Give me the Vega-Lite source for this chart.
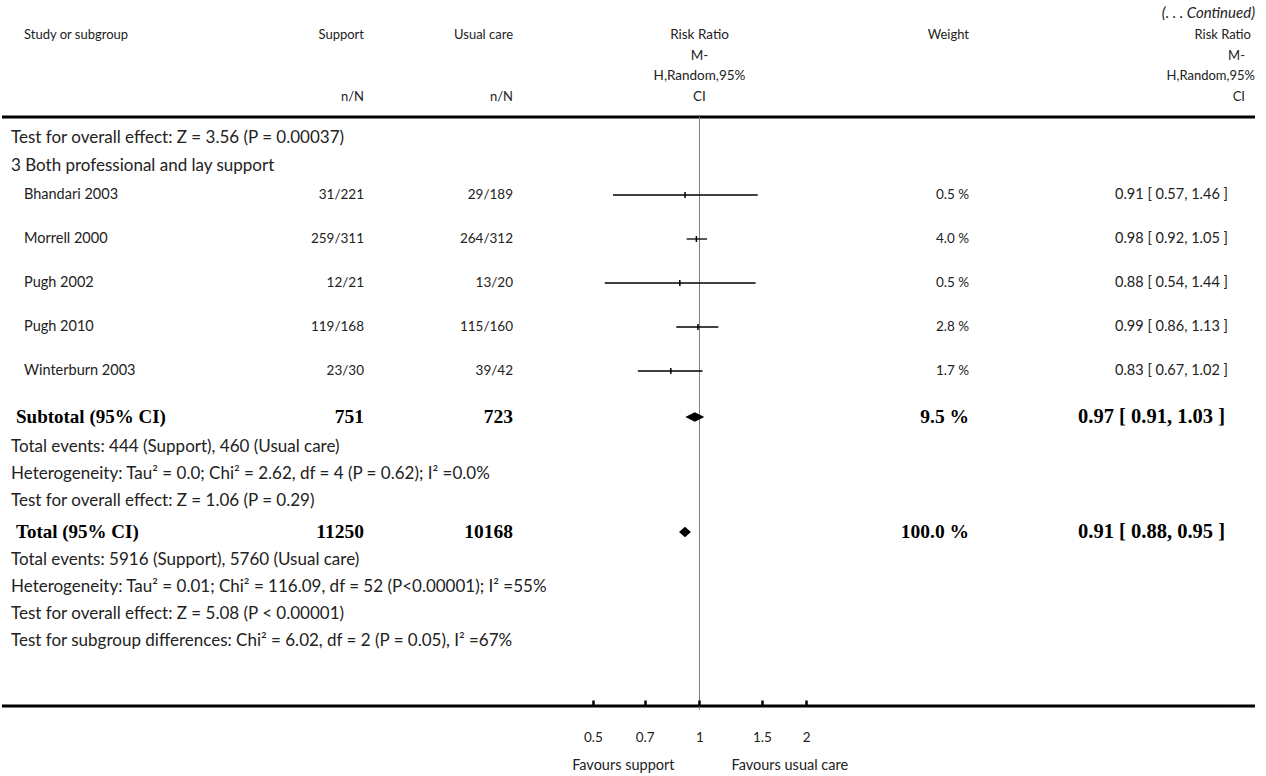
{
  "$schema": "https://vega.github.io/schema/vega-lite/v6.json",
  "padding": 0,
  "spacing": 0,
  "bounds": "flush",
  "background": "white",
  "config": {
    "view": {"stroke": null},
    "text": {"font": "Lato", "fontSize": 14.5, "color": "#222", "baseline": "middle"},
    "concat": {"spacing": 0}
  },
  "resolve": {"scale": {"x": "independent", "y": "independent"}},
  "datasets": {
    "table": [
      {"y": 1.3, "kind": "cont", "rrh": "(. . . Continued)"},
      {"y": 3.5, "kind": "head", "study": "Study or subgroup", "support": "Support", "usual": "Usual care", "forest": "Risk Ratio", "weight": "Weight", "rrh": "Risk Ratio"},
      {"y": 5.55, "kind": "head", "forest": "M-", "rrh": "M-"},
      {"y": 7.6, "kind": "head", "forest": "H,Random,95%", "rrh": "H,Random,95%"},
      {"y": 9.65, "kind": "head", "support": "n/N", "usual": "n/N", "forest": "CI", "rrh": "CI"},
      {"y": 13.8, "kind": "note", "study": "Test for overall effect: Z = 3.56 (P = 0.00037)"},
      {"y": 16.6, "kind": "note", "study": "3 Both professional and lay support"},
      {"y": 19.5, "kind": "study", "study": "Bhandari 2003", "support": "31/221", "usual": "29/189", "rr": 0.91, "lo": 0.57, "hi": 1.46, "weight": "0.5 %", "ci": "0.91 [ 0.57, 1.46 ]"},
      {"y": 23.9, "kind": "study", "study": "Morrell 2000", "support": "259/311", "usual": "264/312", "rr": 0.98, "lo": 0.92, "hi": 1.05, "weight": "4.0 %", "ci": "0.98 [ 0.92, 1.05 ]"},
      {"y": 28.3, "kind": "study", "study": "Pugh 2002", "support": "12/21", "usual": "13/20", "rr": 0.88, "lo": 0.54, "hi": 1.44, "weight": "0.5 %", "ci": "0.88 [ 0.54, 1.44 ]"},
      {"y": 32.7, "kind": "study", "study": "Pugh 2010", "support": "119/168", "usual": "115/160", "rr": 0.99, "lo": 0.86, "hi": 1.13, "weight": "2.8 %", "ci": "0.99 [ 0.86, 1.13 ]"},
      {"y": 37.1, "kind": "study", "study": "Winterburn 2003", "support": "23/30", "usual": "39/42", "rr": 0.83, "lo": 0.67, "hi": 1.02, "weight": "1.7 %", "ci": "0.83 [ 0.67, 1.02 ]"},
      {"y": 41.7, "kind": "bold", "diamond": "wide", "study": "Subtotal (95% CI)", "support": "751", "usual": "723", "rr": 0.97, "lo": 0.91, "hi": 1.03, "weight": "9.5 %", "ci": "0.97 [ 0.91, 1.03 ]"},
      {"y": 44.7, "kind": "note", "study": "Total events: 444 (Support), 460 (Usual care)"},
      {"y": 47.4, "kind": "note", "study": "Heterogeneity: Tau² = 0.0; Chi² = 2.62, df = 4 (P = 0.62); I² =0.0%"},
      {"y": 50.1, "kind": "note", "study": "Test for overall effect: Z = 1.06 (P = 0.29)"},
      {"y": 53.2, "kind": "bold", "diamond": "narrow", "study": "Total (95% CI)", "support": "11250", "usual": "10168", "rr": 0.91, "lo": 0.88, "hi": 0.95, "weight": "100.0 %", "ci": "0.91 [ 0.88, 0.95 ]"},
      {"y": 56.0, "kind": "note", "study": "Total events: 5916 (Support), 5760 (Usual care)"},
      {"y": 58.7, "kind": "note", "study": "Heterogeneity: Tau² = 0.01; Chi² = 116.09, df = 52 (P<0.00001); I² =55%"},
      {"y": 61.4, "kind": "note", "study": "Test for overall effect: Z = 5.08 (P < 0.00001)"},
      {"y": 64.1, "kind": "note", "study": "Test for subgroup differences: Chi² = 6.02, df = 2 (P = 0.05), I² =67%"}
    ],
    "hlines": [{"y": 11.7}, {"y": 70.6}],
    "favours": [{"y": 76.6, "t": "Favours support", "side": "left"}, {"y": 76.6, "t": "Favours usual care", "side": "right"}]
  },
  "hconcat": [
    {
      "width": 240, "height": 776,
      "layer": [
        {"data": {"name": "hlines"}, "mark": {"type": "rule", "strokeWidth": 3, "color": "#000"},
         "encoding": {"y": {"field": "y", "type": "quantitative", "scale": {"domain": [0, 77.6], "reverse": true, "nice": false, "zero": false}, "axis": null}}},
        {"data": {"name": "table"}, "transform": [{"filter": "datum.kind === 'head' && datum.study"}],
         "mark": {"type": "text", "align": "left", "dx": 22, "fontSize": 13},
         "encoding": {
           "x": {"datum": "c", "type": "nominal", "scale": {"type": "band", "paddingInner": 0, "paddingOuter": 0}, "bandPosition": 0, "axis": null},
           "y": {"field": "y", "type": "quantitative", "scale": {"domain": [0, 77.6], "reverse": true, "nice": false, "zero": false}, "axis": null},
           "text": {"field": "study"}}},
        {"data": {"name": "table"}, "transform": [{"filter": "datum.kind === 'note'"}],
         "mark": {"type": "text", "align": "left", "dx": 9, "fontSize": 17},
         "encoding": {
           "x": {"datum": "c", "type": "nominal", "scale": {"type": "band", "paddingInner": 0, "paddingOuter": 0}, "bandPosition": 0, "axis": null},
           "y": {"field": "y", "type": "quantitative", "scale": {"domain": [0, 77.6], "reverse": true, "nice": false, "zero": false}, "axis": null},
           "text": {"field": "study"}}},
        {"data": {"name": "table"}, "transform": [{"filter": "datum.kind === 'study'"}],
         "mark": {"type": "text", "align": "left", "dx": 22},
         "encoding": {
           "x": {"datum": "c", "type": "nominal", "scale": {"type": "band", "paddingInner": 0, "paddingOuter": 0}, "bandPosition": 0, "axis": null},
           "y": {"field": "y", "type": "quantitative", "scale": {"domain": [0, 77.6], "reverse": true, "nice": false, "zero": false}, "axis": null},
           "text": {"field": "study"}}},
        {"data": {"name": "table"}, "transform": [{"filter": "datum.kind === 'bold'"}],
         "mark": {"type": "text", "align": "left", "dx": 14, "font": "Liberation Serif", "fontWeight": "bold", "fontSize": 19, "color": "#000"},
         "encoding": {
           "x": {"datum": "c", "type": "nominal", "scale": {"type": "band", "paddingInner": 0, "paddingOuter": 0}, "bandPosition": 0, "axis": null},
           "y": {"field": "y", "type": "quantitative", "scale": {"domain": [0, 77.6], "reverse": true, "nice": false, "zero": false}, "axis": null},
           "text": {"field": "study"}}}
      ]
    },
    {
      "width": 122, "height": 776,
      "layer": [
        {"data": {"name": "hlines"}, "mark": {"type": "rule", "strokeWidth": 3, "color": "#000"},
         "encoding": {"y": {"field": "y", "type": "quantitative", "scale": {"domain": [0, 77.6], "reverse": true, "nice": false, "zero": false}, "axis": null}}},
        {"data": {"name": "table"}, "transform": [{"filter": "datum.kind === 'head' && datum.support"}],
         "mark": {"type": "text", "align": "right", "fontSize": 13},
         "encoding": {
           "x": {"datum": "c", "type": "nominal", "scale": {"type": "band", "paddingInner": 0, "paddingOuter": 0}, "bandPosition": 1, "axis": null},
           "y": {"field": "y", "type": "quantitative", "scale": {"domain": [0, 77.6], "reverse": true, "nice": false, "zero": false}, "axis": null},
           "text": {"field": "support"}}},
        {"data": {"name": "table"}, "transform": [{"filter": "datum.kind === 'study'"}],
         "mark": {"type": "text", "align": "right", "fontSize": 13.5},
         "encoding": {
           "x": {"datum": "c", "type": "nominal", "scale": {"type": "band", "paddingInner": 0, "paddingOuter": 0}, "bandPosition": 1, "axis": null},
           "y": {"field": "y", "type": "quantitative", "scale": {"domain": [0, 77.6], "reverse": true, "nice": false, "zero": false}, "axis": null},
           "text": {"field": "support"}}},
        {"data": {"name": "table"}, "transform": [{"filter": "datum.kind === 'bold'"}],
         "mark": {"type": "text", "align": "right", "font": "Liberation Serif", "fontWeight": "bold", "fontSize": 19.5, "color": "#000"},
         "encoding": {
           "x": {"datum": "c", "type": "nominal", "scale": {"type": "band", "paddingInner": 0, "paddingOuter": 0}, "bandPosition": 1, "axis": null},
           "y": {"field": "y", "type": "quantitative", "scale": {"domain": [0, 77.6], "reverse": true, "nice": false, "zero": false}, "axis": null},
           "text": {"field": "support"}}}
      ]
    },
    {
      "width": 149, "height": 776,
      "layer": [
        {"data": {"name": "hlines"}, "mark": {"type": "rule", "strokeWidth": 3, "color": "#000"},
         "encoding": {"y": {"field": "y", "type": "quantitative", "scale": {"domain": [0, 77.6], "reverse": true, "nice": false, "zero": false}, "axis": null}}},
        {"data": {"name": "table"}, "transform": [{"filter": "datum.kind === 'head' && datum.usual"}],
         "mark": {"type": "text", "align": "right", "fontSize": 13},
         "encoding": {
           "x": {"datum": "c", "type": "nominal", "scale": {"type": "band", "paddingInner": 0, "paddingOuter": 0}, "bandPosition": 1, "axis": null},
           "y": {"field": "y", "type": "quantitative", "scale": {"domain": [0, 77.6], "reverse": true, "nice": false, "zero": false}, "axis": null},
           "text": {"field": "usual"}}},
        {"data": {"name": "table"}, "transform": [{"filter": "datum.kind === 'study'"}],
         "mark": {"type": "text", "align": "right", "fontSize": 13.5},
         "encoding": {
           "x": {"datum": "c", "type": "nominal", "scale": {"type": "band", "paddingInner": 0, "paddingOuter": 0}, "bandPosition": 1, "axis": null},
           "y": {"field": "y", "type": "quantitative", "scale": {"domain": [0, 77.6], "reverse": true, "nice": false, "zero": false}, "axis": null},
           "text": {"field": "usual"}}},
        {"data": {"name": "table"}, "transform": [{"filter": "datum.kind === 'bold'"}],
         "mark": {"type": "text", "align": "right", "font": "Liberation Serif", "fontWeight": "bold", "fontSize": 19.5, "color": "#000"},
         "encoding": {
           "x": {"datum": "c", "type": "nominal", "scale": {"type": "band", "paddingInner": 0, "paddingOuter": 0}, "bandPosition": 1, "axis": null},
           "y": {"field": "y", "type": "quantitative", "scale": {"domain": [0, 77.6], "reverse": true, "nice": false, "zero": false}, "axis": null},
           "text": {"field": "usual"}}}
      ]
    },
    {
      "width": 360, "height": 776,
      "layer": [
        {"data": {"name": "hlines"}, "mark": {"type": "rule", "strokeWidth": 3, "color": "#000"},
         "encoding": {"y": {"field": "y", "type": "quantitative", "scale": {"domain": [0, 77.6], "reverse": true, "nice": false, "zero": false}, "axis": null}}},
        {"data": {"values": [{"a": 11.7, "b": 71.0}]},
         "mark": {"type": "rule", "color": "#808080", "strokeWidth": 1},
         "encoding": {
           "x": {"datum": 1, "type": "quantitative", "scale": {"type": "log", "domain": [0.2975, 3.089], "nice": false},
                 "axis": {"orient": "bottom", "offset": -70, "values": [0.5, 0.7, 1, 1.5, 2], "format": "~g", "title": null, "domain": false, "grid": false, "zindex": 1,
                          "ticks": true, "tickSize": -6, "tickWidth": 2.5, "tickColor": "#000", "labelFont": "Lato", "labelFontSize": 13.5, "labelColor": "#222", "labelPadding": 30}},
           "y": {"field": "a", "type": "quantitative", "scale": {"domain": [0, 77.6], "reverse": true, "nice": false, "zero": false}, "axis": null},
           "y2": {"field": "b"}}},
        {"data": {"name": "table"}, "transform": [{"filter": "datum.kind === 'study'"}],
         "mark": {"type": "rule", "color": "#000", "strokeWidth": 1.3},
         "encoding": {
           "x": {"field": "lo", "type": "quantitative", "scale": {"type": "log", "domain": [0.2975, 3.089], "nice": false},
                 "axis": {"orient": "bottom", "offset": -70, "values": [0.5, 0.7, 1, 1.5, 2], "format": "~g", "title": null, "domain": false, "grid": false, "zindex": 1,
                          "ticks": true, "tickSize": -6, "tickWidth": 2.5, "tickColor": "#000", "labelFont": "Lato", "labelFontSize": 13.5, "labelColor": "#222", "labelPadding": 30}},
           "x2": {"field": "hi"},
           "y": {"field": "y", "type": "quantitative", "scale": {"domain": [0, 77.6], "reverse": true, "nice": false, "zero": false}, "axis": null}}},
        {"data": {"name": "table"}, "transform": [{"filter": "datum.kind === 'study'"}],
         "mark": {"type": "point", "shape": "M0,-1L0,1", "filled": false, "stroke": "#000", "strokeWidth": 1.5, "size": 36, "opacity": 1},
         "encoding": {
           "x": {"field": "rr", "type": "quantitative", "scale": {"type": "log", "domain": [0.2975, 3.089], "nice": false},
                 "axis": {"orient": "bottom", "offset": -70, "values": [0.5, 0.7, 1, 1.5, 2], "format": "~g", "title": null, "domain": false, "grid": false, "zindex": 1,
                          "ticks": true, "tickSize": -6, "tickWidth": 2.5, "tickColor": "#000", "labelFont": "Lato", "labelFontSize": 13.5, "labelColor": "#222", "labelPadding": 30}},
           "y": {"field": "y", "type": "quantitative", "scale": {"domain": [0, 77.6], "reverse": true, "nice": false, "zero": false}, "axis": null}}},
        {"data": {"name": "table"}, "transform": [{"filter": "datum.diamond === 'wide'"}],
         "mark": {"type": "point", "shape": "M-1,0L0,-0.5L1,0L0,0.5Z", "filled": true, "fill": "#000", "strokeWidth": 0, "size": 361, "opacity": 1},
         "encoding": {
           "x": {"field": "rr", "type": "quantitative", "scale": {"type": "log", "domain": [0.2975, 3.089], "nice": false},
                 "axis": {"orient": "bottom", "offset": -70, "values": [0.5, 0.7, 1, 1.5, 2], "format": "~g", "title": null, "domain": false, "grid": false, "zindex": 1,
                          "ticks": true, "tickSize": -6, "tickWidth": 2.5, "tickColor": "#000", "labelFont": "Lato", "labelFontSize": 13.5, "labelColor": "#222", "labelPadding": 30}},
           "y": {"field": "y", "type": "quantitative", "scale": {"domain": [0, 77.6], "reverse": true, "nice": false, "zero": false}, "axis": null}}},
        {"data": {"name": "table"}, "transform": [{"filter": "datum.diamond === 'narrow'"}],
         "mark": {"type": "point", "shape": "M-1,0L0,-0.9L1,0L0,0.9Z", "filled": true, "fill": "#000", "strokeWidth": 0, "size": 140, "opacity": 1},
         "encoding": {
           "x": {"field": "rr", "type": "quantitative", "scale": {"type": "log", "domain": [0.2975, 3.089], "nice": false},
                 "axis": {"orient": "bottom", "offset": -70, "values": [0.5, 0.7, 1, 1.5, 2], "format": "~g", "title": null, "domain": false, "grid": false, "zindex": 1,
                          "ticks": true, "tickSize": -6, "tickWidth": 2.5, "tickColor": "#000", "labelFont": "Lato", "labelFontSize": 13.5, "labelColor": "#222", "labelPadding": 30}},
           "y": {"field": "y", "type": "quantitative", "scale": {"domain": [0, 77.6], "reverse": true, "nice": false, "zero": false}, "axis": null}}},
        {"data": {"name": "table"}, "transform": [{"filter": "datum.kind === 'head' && datum.forest"}],
         "mark": {"type": "text", "align": "center", "fontSize": 13.5},
         "encoding": {
           "x": {"datum": 1, "type": "quantitative", "scale": {"type": "log", "domain": [0.2975, 3.089], "nice": false},
                 "axis": {"orient": "bottom", "offset": -70, "values": [0.5, 0.7, 1, 1.5, 2], "format": "~g", "title": null, "domain": false, "grid": false, "zindex": 1,
                          "ticks": true, "tickSize": -6, "tickWidth": 2.5, "tickColor": "#000", "labelFont": "Lato", "labelFontSize": 13.5, "labelColor": "#222", "labelPadding": 30}},
           "y": {"field": "y", "type": "quantitative", "scale": {"domain": [0, 77.6], "reverse": true, "nice": false, "zero": false}, "axis": null},
           "text": {"field": "forest"}}},
        {"data": {"name": "favours"}, "transform": [{"filter": "datum.side === 'left'"}],
         "mark": {"type": "text", "align": "right", "dx": -25, "fontSize": 14.5},
         "encoding": {
           "x": {"datum": 1, "type": "quantitative", "scale": {"type": "log", "domain": [0.2975, 3.089], "nice": false},
                 "axis": {"orient": "bottom", "offset": -70, "values": [0.5, 0.7, 1, 1.5, 2], "format": "~g", "title": null, "domain": false, "grid": false, "zindex": 1,
                          "ticks": true, "tickSize": -6, "tickWidth": 2.5, "tickColor": "#000", "labelFont": "Lato", "labelFontSize": 13.5, "labelColor": "#222", "labelPadding": 30}},
           "y": {"field": "y", "type": "quantitative", "scale": {"domain": [0, 77.6], "reverse": true, "nice": false, "zero": false}, "axis": null},
           "text": {"field": "t"}}},
        {"data": {"name": "favours"}, "transform": [{"filter": "datum.side === 'right'"}],
         "mark": {"type": "text", "align": "left", "dx": 32, "fontSize": 14.5},
         "encoding": {
           "x": {"datum": 1, "type": "quantitative", "scale": {"type": "log", "domain": [0.2975, 3.089], "nice": false},
                 "axis": {"orient": "bottom", "offset": -70, "values": [0.5, 0.7, 1, 1.5, 2], "format": "~g", "title": null, "domain": false, "grid": false, "zindex": 1,
                          "ticks": true, "tickSize": -6, "tickWidth": 2.5, "tickColor": "#000", "labelFont": "Lato", "labelFontSize": 13.5, "labelColor": "#222", "labelPadding": 30}},
           "y": {"field": "y", "type": "quantitative", "scale": {"domain": [0, 77.6], "reverse": true, "nice": false, "zero": false}, "axis": null},
           "text": {"field": "t"}}}
      ]
    },
    {
      "width": 96, "height": 776,
      "layer": [
        {"data": {"name": "hlines"}, "mark": {"type": "rule", "strokeWidth": 3, "color": "#000"},
         "encoding": {"y": {"field": "y", "type": "quantitative", "scale": {"domain": [0, 77.6], "reverse": true, "nice": false, "zero": false}, "axis": null}}},
        {"data": {"name": "table"}, "transform": [{"filter": "datum.kind === 'head' && datum.weight"}],
         "mark": {"type": "text", "align": "right", "fontSize": 13},
         "encoding": {
           "x": {"datum": "c", "type": "nominal", "scale": {"type": "band", "paddingInner": 0, "paddingOuter": 0}, "bandPosition": 1, "axis": null},
           "y": {"field": "y", "type": "quantitative", "scale": {"domain": [0, 77.6], "reverse": true, "nice": false, "zero": false}, "axis": null},
           "text": {"field": "weight"}}},
        {"data": {"name": "table"}, "transform": [{"filter": "datum.kind === 'study'"}],
         "mark": {"type": "text", "align": "right", "fontSize": 13.5},
         "encoding": {
           "x": {"datum": "c", "type": "nominal", "scale": {"type": "band", "paddingInner": 0, "paddingOuter": 0}, "bandPosition": 1, "axis": null},
           "y": {"field": "y", "type": "quantitative", "scale": {"domain": [0, 77.6], "reverse": true, "nice": false, "zero": false}, "axis": null},
           "text": {"field": "weight"}}},
        {"data": {"name": "table"}, "transform": [{"filter": "datum.kind === 'bold'"}],
         "mark": {"type": "text", "align": "right", "font": "Liberation Serif", "fontWeight": "bold", "fontSize": 19.5, "color": "#000"},
         "encoding": {
           "x": {"datum": "c", "type": "nominal", "scale": {"type": "band", "paddingInner": 0, "paddingOuter": 0}, "bandPosition": 1, "axis": null},
           "y": {"field": "y", "type": "quantitative", "scale": {"domain": [0, 77.6], "reverse": true, "nice": false, "zero": false}, "axis": null},
           "text": {"field": "weight"}}}
      ]
    },
    {
      "width": 259, "height": 776,
      "layer": [
        {"data": {"name": "hlines"}, "mark": {"type": "rule", "strokeWidth": 3, "color": "#000"},
         "encoding": {"y": {"field": "y", "type": "quantitative", "scale": {"domain": [0, 77.6], "reverse": true, "nice": false, "zero": false}, "axis": null}}},
        {"data": {"name": "table"}, "transform": [{"filter": "datum.kind === 'study'"}],
         "mark": {"type": "text", "align": "right", "fontSize": 14.5},
         "encoding": {
           "x": {"datum": "c", "type": "nominal", "scale": {"type": "band", "paddingInner": 0, "paddingOuter": 0}, "bandPosition": 1, "axis": null},
           "y": {"field": "y", "type": "quantitative", "scale": {"domain": [0, 77.6], "reverse": true, "nice": false, "zero": false}, "axis": null},
           "text": {"field": "ci"}}},
        {"data": {"name": "table"}, "transform": [{"filter": "datum.kind === 'bold'"}],
         "mark": {"type": "text", "align": "right", "dx": -3, "font": "Liberation Serif", "fontWeight": "bold", "fontSize": 20.5, "color": "#000"},
         "encoding": {
           "x": {"datum": "c", "type": "nominal", "scale": {"type": "band", "paddingInner": 0, "paddingOuter": 0}, "bandPosition": 1, "axis": null},
           "y": {"field": "y", "type": "quantitative", "scale": {"domain": [0, 77.6], "reverse": true, "nice": false, "zero": false}, "axis": null},
           "text": {"field": "ci"}}}
      ]
    },
    {
      "width": 27, "height": 776,
      "layer": [
        {"data": {"name": "hlines"}, "mark": {"type": "rule", "strokeWidth": 3, "color": "#000"},
         "encoding": {"y": {"field": "y", "type": "quantitative", "scale": {"domain": [0, 77.6], "reverse": true, "nice": false, "zero": false}, "axis": null}}},
        {"data": {"name": "table"}, "transform": [{"filter": "datum.kind === 'head' && datum.rrh === 'Risk Ratio'"}],
         "mark": {"type": "text", "align": "right", "dx": -4, "fontSize": 13},
         "encoding": {
           "x": {"datum": "c", "type": "nominal", "scale": {"type": "band", "paddingInner": 0, "paddingOuter": 0}, "bandPosition": 1, "axis": null},
           "y": {"field": "y", "type": "quantitative", "scale": {"domain": [0, 77.6], "reverse": true, "nice": false, "zero": false}, "axis": null},
           "text": {"field": "rrh"}}},
        {"data": {"name": "table"}, "transform": [{"filter": "datum.kind === 'head' && datum.rrh === 'H,Random,95%'"}],
         "mark": {"type": "text", "align": "right", "fontSize": 13},
         "encoding": {
           "x": {"datum": "c", "type": "nominal", "scale": {"type": "band", "paddingInner": 0, "paddingOuter": 0}, "bandPosition": 1, "axis": null},
           "y": {"field": "y", "type": "quantitative", "scale": {"domain": [0, 77.6], "reverse": true, "nice": false, "zero": false}, "axis": null},
           "text": {"field": "rrh"}}},
        {"data": {"name": "table"}, "transform": [{"filter": "datum.kind === 'head' && (datum.rrh === 'M-' || datum.rrh === 'CI')"}],
         "mark": {"type": "text", "align": "right", "dx": -10, "fontSize": 13},
         "encoding": {
           "x": {"datum": "c", "type": "nominal", "scale": {"type": "band", "paddingInner": 0, "paddingOuter": 0}, "bandPosition": 1, "axis": null},
           "y": {"field": "y", "type": "quantitative", "scale": {"domain": [0, 77.6], "reverse": true, "nice": false, "zero": false}, "axis": null},
           "text": {"field": "rrh"}}},
        {"data": {"name": "table"}, "transform": [{"filter": "datum.kind === 'cont'"}],
         "mark": {"type": "text", "align": "right", "fontSize": 15, "fontStyle": "italic"},
         "encoding": {
           "x": {"datum": "c", "type": "nominal", "scale": {"type": "band", "paddingInner": 0, "paddingOuter": 0}, "bandPosition": 1, "axis": null},
           "y": {"field": "y", "type": "quantitative", "scale": {"domain": [0, 77.6], "reverse": true, "nice": false, "zero": false}, "axis": null},
           "text": {"field": "rrh"}}}
      ]
    }
  ]
}
